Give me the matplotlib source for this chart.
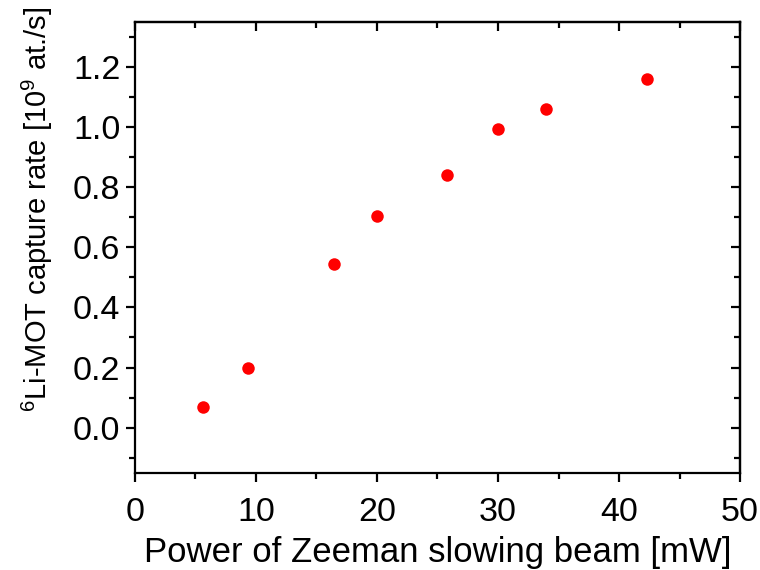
import matplotlib
matplotlib.use("Agg")
import matplotlib.pyplot as plt
from matplotlib.ticker import MultipleLocator

# データ
power_mw = [5.6, 9.3, 16.45, 20.0, 25.8, 30.0, 34.0, 42.3]
capture_rate = [0.069, 0.198, 0.544, 0.704, 0.840, 0.993, 1.059, 1.159]

plt.rcParams['font.family'] = ['Liberation Sans', 'DejaVu Sans']
plt.rcParams['mathtext.fontset'] = 'custom'
plt.rcParams['mathtext.rm'] = 'Liberation Sans'

fig = plt.figure(figsize=(7.6, 5.7), dpi=100)
ax = fig.add_axes([0.1776, 0.1707, 0.7961, 0.7907])

ax.plot(power_mw, capture_rate, 'o', color='red', markersize=9, markeredgewidth=0)

ax.set_xlim(0, 50)
ax.set_ylim(-0.15, 1.35)
ax.xaxis.set_major_locator(MultipleLocator(10))
ax.xaxis.set_minor_locator(MultipleLocator(5))
ax.yaxis.set_major_locator(MultipleLocator(0.2))
ax.yaxis.set_minor_locator(MultipleLocator(0.1))
ax.yaxis.set_major_formatter(plt.FormatStrFormatter('%.1f'))

for s in ax.spines.values():
    s.set_linewidth(1.6)

ax.tick_params(which='both', labelsize=24.5, width=1.6)
ax.tick_params(which='major', length=6.5)
ax.tick_params(which='minor', length=4)
ax.tick_params(axis='x', which='both', direction='out', pad=11)
ax.tick_params(axis='y', which='both', direction='out', pad=4)

# 上と右は内向きの目盛り
axt = ax.secondary_xaxis('top')
axt.xaxis.set_major_locator(MultipleLocator(10))
axt.xaxis.set_minor_locator(MultipleLocator(5))
axt.tick_params(which='both', direction='in', labeltop=False, width=1.6)
axt.tick_params(which='major', length=6.5)
axt.tick_params(which='minor', length=4)
axr = ax.secondary_yaxis('right')
axr.yaxis.set_major_locator(MultipleLocator(0.2))
axr.yaxis.set_minor_locator(MultipleLocator(0.1))
axr.tick_params(which='both', direction='in', labelright=False, width=1.6)
axr.tick_params(which='major', length=6.5)
axr.tick_params(which='minor', length=4)
for a in (axt, axr):
    for s in a.spines.values():
        s.set_linewidth(1.6)

ax.set_xlabel('Power of Zeeman slowing beam [mW]', fontsize=25, labelpad=6)
ax.set_ylabel('$^{6}$Li-MOT capture rate [10$^{9}$ at./s]', fontsize=21)
ax.yaxis.set_label_coords(-0.132, 0.585)

fig.savefig('out.png', dpi=100)
